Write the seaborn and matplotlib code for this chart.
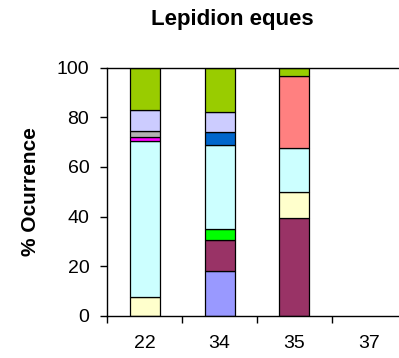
import matplotlib
matplotlib.use("Agg")
import matplotlib.pyplot as plt
import seaborn as sns
import pandas as pd
import numpy as np

categories = ["22", "34", "35", "37"]
series_names = ["s1", "s2", "s3", "s4", "s5", "s6", "s7", "s8", "s9", "s10", "s11"]
series_colors = ["#9999FF", "#993366", "#FFFFCC", "#00FF00", "#CCFFFF", "#FF00FF",
                 "#B2B2B2", "#0066CC", "#FF8080", "#CCCCFF", "#99CC00"]
# values per series, per category (22, 34, 35, 37)
s1 = [0, 18, 0, 0]
s2 = [0, 12.5, 39.5, 0]
s3 = [7.5, 0, 10.5, 0]
s4 = [0, 4.5, 0, 0]
s5 = [63, 34, 17.5, 0]
s6 = [1.5, 0, 0, 0]
s7 = [2.5, 0, 0, 0]
s8 = [0, 5, 0, 0]
s9 = [0, 0, 29, 0]
s10 = [8.5, 8, 0, 0]
s11 = [17, 18, 3.5, 0]
values = [s1, s2, s3, s4, s5, s6, s7, s8, s9, s10, s11]

sns.set_theme(style="white")
plt.rcParams['font.family'] = ['Liberation Sans', 'DejaVu Sans']
plt.rcParams['text.color'] = 'black'
plt.rcParams['axes.labelcolor'] = 'black'
plt.rcParams['xtick.color'] = 'black'
plt.rcParams['ytick.color'] = 'black'

fig = plt.figure(figsize=(3.99, 3.58), dpi=100)
ax = fig.add_axes([0.269, 0.118, 0.750, 0.693])

bottom = np.zeros(len(categories))
for name, col, vals in zip(series_names, series_colors, values):
    v = np.array(vals, dtype=float)
    df = pd.DataFrame({"cat": categories, "val": v + bottom})
    sns.barplot(data=df, x="cat", y="val", order=categories, ax=ax,
                color=col, width=0.4, edgecolor="black", linewidth=0.9,
                saturation=1)
    new_patches = ax.patches[-len(categories):]
    for p, b, h in zip(new_patches, bottom, v):
        p.set_y(b)
        p.set_height(h)
        if h <= 0:
            p.set_visible(False)
    bottom = bottom + v

ax.set_xlim(-0.5, 3.5)
ax.set_ylim(0, 100)
ax.set_yticks([0, 20, 40, 60, 80, 100])
ax.set_xlabel("")
ax.set_ylabel("% Ocurrence", fontsize=15, fontweight="bold", labelpad=12)
fig.text(232 / 399, 1 - 19 / 358, "Lepidion eques", fontsize=16, fontweight="bold",
         ha="center", va="center", color="black")

for s in ax.spines.values():
    s.set_color("black")
    s.set_linewidth(1.0)

ax.tick_params(axis="y", which="major", direction="out", length=5, width=1,
               color="black", labelsize=14, pad=8, left=True)
ax.set_xticks([0, 1, 2, 3])
ax.set_xticklabels(categories)
ax.tick_params(axis="x", which="major", length=0, labelsize=14, pad=14)
ax.set_xticks([-0.5, 0.5, 1.5, 2.5, 3.5], minor=True)
ax.tick_params(axis="x", which="minor", direction="out", length=5, width=1,
               color="black", bottom=True)

fig.savefig("out.png", dpi=100)
